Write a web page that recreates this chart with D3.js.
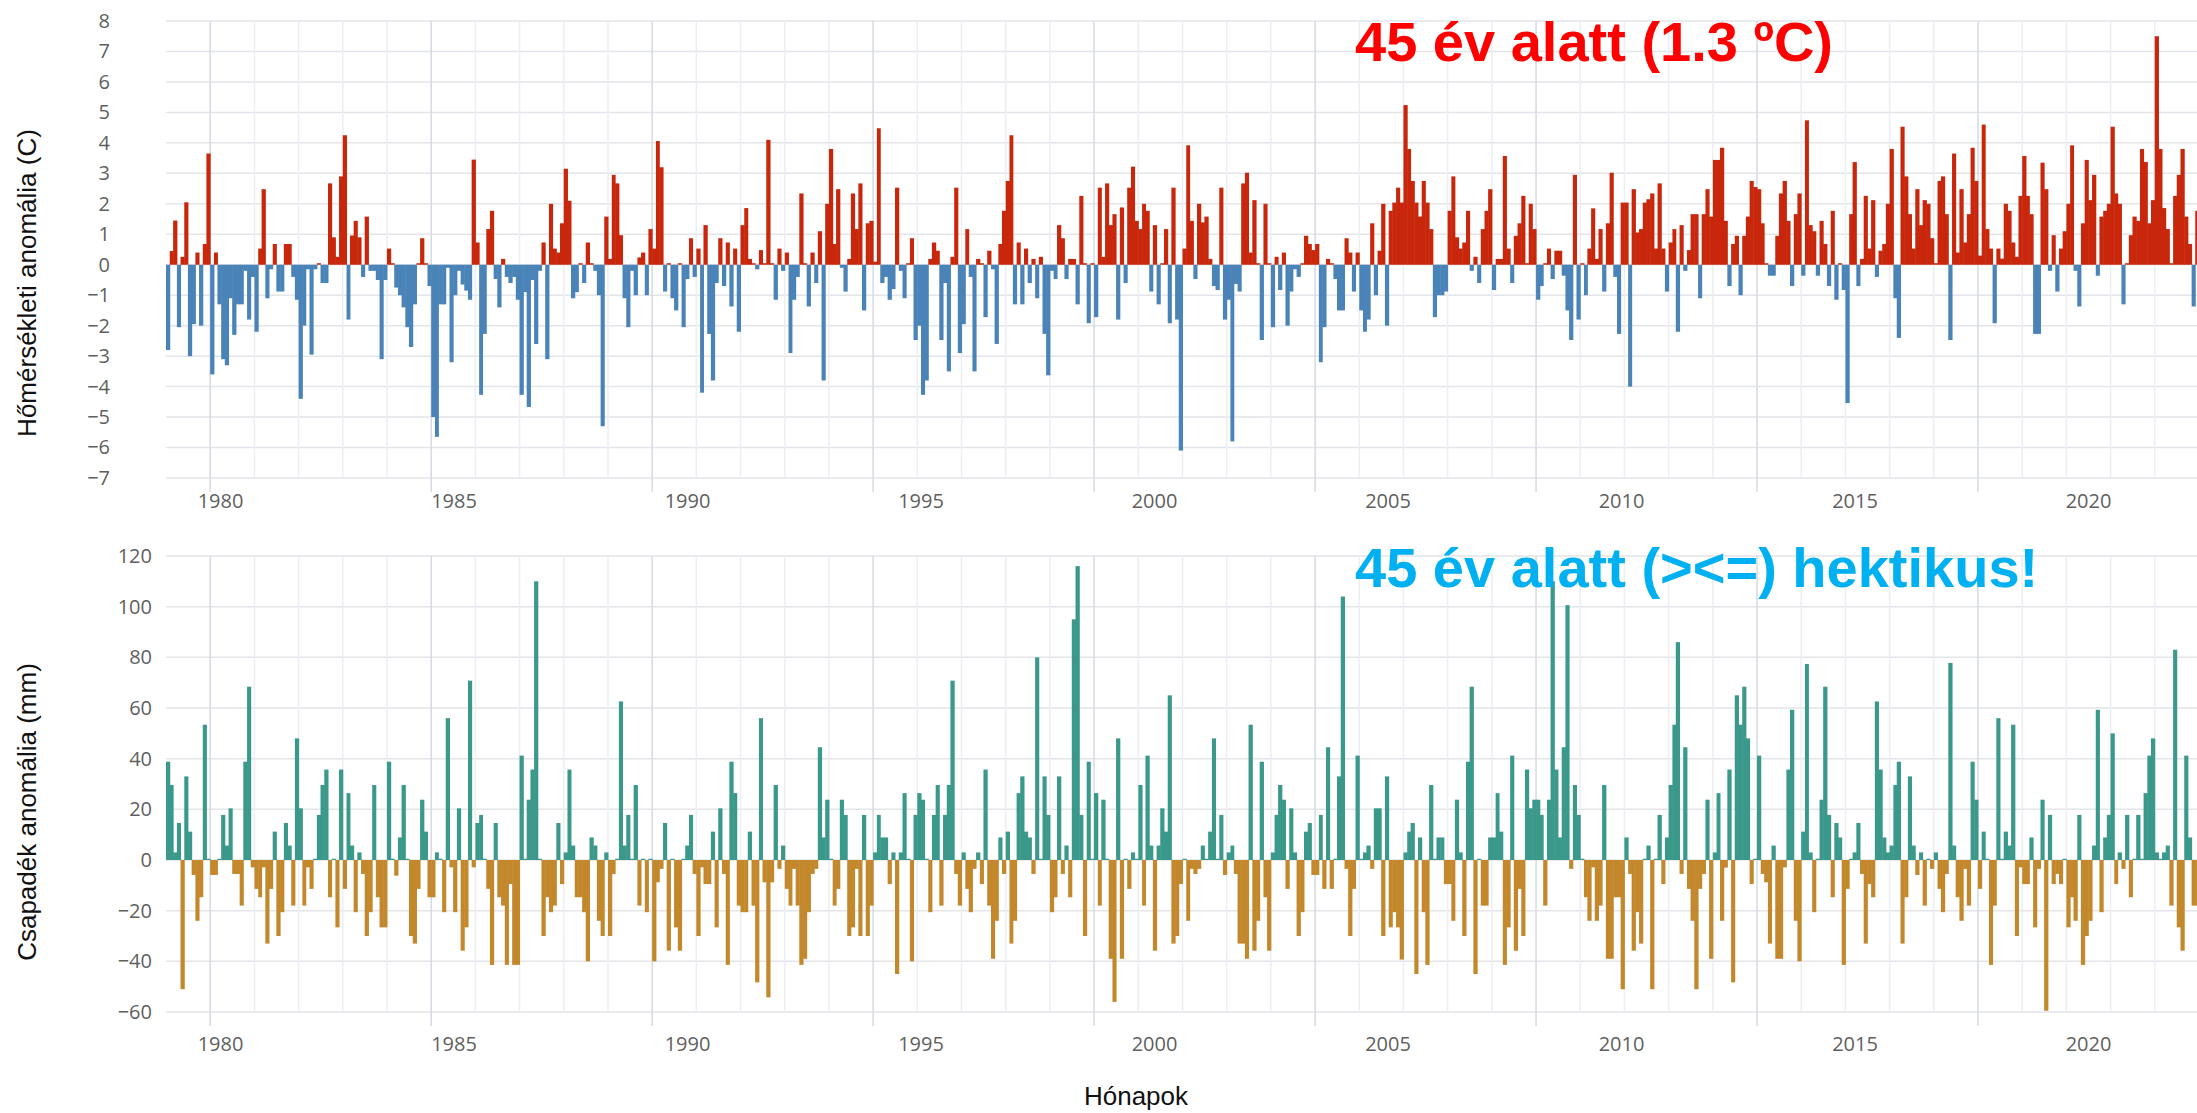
<!DOCTYPE html>
<html>
<head>
<meta charset="utf-8">
<script src="https://cdn.jsdelivr.net/npm/d3@7"></script>
<style>
  html, body { margin: 0; padding: 0; background: #fff; overflow: hidden; }
  svg { display: block; }
</style>
</head>
<body>
<svg id="chart" width="2197" height="1113"></svg>
<script>
const startYear = 1979;
const endYear = 2025;
const labelYears = [1980, 1985, 1990, 1995, 2000, 2005, 2010, 2015, 2020];
const tempTicks = [-7, -6, -5, -4, -3, -2, -1, 0, 1, 2, 3, 4, 5, 6, 7, 8];
const precipTicks = [-60, -40, -20, 0, 20, 40, 60, 80, 100, 120];

// monthly temperature anomaly (C), Jan 1979 .. Dec 2024, one row per year
const tempAnomaly = [
  -2.8, 0.45, 1.45, -2.05, 0.26, 2.05, -3.0, -1.95, 0.4, -2.0, 0.68, 3.65,
  -3.6, 0.4, -1.3, -3.1, -3.3, -1.1, -2.3, -1.3, -1.3, -0.2, -1.8, -0.4,
  -2.2, 0.53, 2.48, -1.1, -0.15, 0.68, -0.88, -0.88, 0.68, 0.68, -0.4, -1.15,
  -4.4, -2.0, -0.15, -2.95, -0.15, 0.05, -0.6, -0.6, 2.67, 0.9, 0.26, 2.9,
  4.25, -1.8, 0.96, 1.44, 0.9, -0.4, 1.58, -0.2, -0.2, -0.5, -3.1, -0.5,
  0.53, 0.05, -0.75, -1.0, -1.4, -2.05, -2.7, -1.3, 0.05, 0.87, 0.05, -0.7,
  -5.0, -5.65, -1.3, -1.3, -0.1, -3.2, -1.0, -0.2, -0.65, -0.85, -1.15, 3.45,
  0.73, -4.27, -2.27, 1.17, 1.77, -0.47, -1.4, 0.19, -0.4, -0.6, -0.4, -1.15,
  -4.27, -0.9, -4.67, -0.5, -2.6, -0.2, 0.73, -3.1, 2.0, 0.53, 0.4, 1.36,
  3.15, 2.1, -1.1, -0.9, 0.05, -0.6, 0.73, 0.05, -0.2, -1.0, -5.3, 1.58,
  0.19, 2.95, 2.67, 0.97, -1.1, -2.05, -0.2, -1.0, 0.24, 0.4, -1.0, 1.17,
  0.53, 4.06, 3.2, -0.88, 0.05, -1.1, -1.5, 0.05, -2.05, -0.47, 0.87, -0.4,
  0.53, -4.2, 1.3, -2.27, -3.8, -0.6, 0.87, -0.7, 0.73, -1.37, 0.53, -2.2,
  1.3, 1.86, 0.19, 0.05, -0.15, 0.48, 0.05, 4.1, 0.05, -1.15, 0.53, -0.2,
  0.4, -2.9, -1.15, -0.4, 2.34, 0.05, -1.37, 0.4, -0.6, 1.1, -3.8, 2.0,
  3.8, 0.68, 2.48, -0.1, -0.88, 0.19, 2.34, 1.17, 2.67, -1.5, 1.36, 1.44,
  0.1, 4.48, -0.6, -0.4, -1.15, -0.8, 2.53, -0.2, -1.1, 0.05, 0.87, -2.47,
  -2.0, -4.27, -3.8, 0.19, 0.73, 0.46, -2.47, -0.6, -3.5, 0.26, 2.53, -2.9,
  -1.95, 1.17, -0.4, -3.5, 0.19, 0.05, -1.72, 0.46, -0.15, -2.6, 0.68, 1.77,
  2.75, 4.25, -1.3, 0.73, -1.3, 0.53, -0.6, 0.19, -1.1, 0.26, -2.27, -3.63,
  -0.2, -0.47, 1.3, 0.87, -0.47, 0.19, 0.19, -1.3, 2.26, 0.05, -1.92, 0.05,
  -1.72, 2.53, 0.26, 2.67, 1.3, 1.66, -1.8, 1.88, -0.6, 2.53, 3.22, 1.44,
  1.17, 2.0, 1.77, -0.88, 1.3, -1.3, 0.05, 1.17, -1.92, 2.53, -1.8, -6.1,
  0.53, 3.92, 1.44, -0.47, 2.0, 1.39, 1.58, 0.19, -0.7, -0.83, 2.53, -1.8,
  -1.15, -5.8, -0.63, -0.88, 2.67, 3.02, 0.4, 2.12, 0.05, -2.47, 2.0, 0.05,
  -2.05, 0.26, -0.83, 0.4, -2.0, -0.88, -0.15, -0.4, 0.05, 0.95, 0.68, 0.48,
  0.68, -3.2, -2.05, 0.19, 0.05, -0.47, -1.5, -1.5, 0.87, 0.4, -0.88, 0.4,
  -1.5, -2.2, -1.8, 1.36, -1.0, 0.46, 2.0, -2.0, 1.77, 2.04, 2.53, 2.04,
  5.24, 3.8, 2.75, 2.04, 1.58, 2.75, 2.04, 1.17, -1.72, -1.0, -1.0, -0.88,
  1.77, 2.9, 0.9, 0.53, 0.73, 1.77, -0.2, 0.26, -0.6, 1.17, 1.77, 2.48,
  -0.83, 0.19, 0.19, 3.57, 0.53, -0.6, 0.95, 1.36, 2.26, 0.05, 2.0, 1.17,
  -1.15, -0.7, 0.05, 0.53, -0.47, 0.46, 0.46, -0.36, -1.5, -2.47, 2.95, -1.8,
  0.05, -1.0, 0.53, 1.85, 0.19, 1.17, -0.88, 1.36, 3.02, -0.4, -2.27, 2.04,
  2.04, -4.0, 2.48, 1.06, 1.17, 2.04, 2.15, 2.34, 0.53, 2.67, 0.53, -0.88,
  0.73, 1.17, -2.2, 1.3, -0.2, 0.48, 1.66, 1.66, -1.1, 1.66, 2.48, 1.58,
  3.44, 3.44, 3.84, 1.44, -0.7, 0.68, 0.95, -1.0, 0.95, 1.58, 2.75, 2.55,
  2.48, 1.36, 0.05, -0.36, -0.36, 0.95, 2.34, 2.75, 1.44, -0.7, 1.66, 2.34,
  -0.36, 4.74, 1.3, 1.1, -0.36, 1.44, 0.68, -0.7, 1.77, -1.15, 0.05, -0.83,
  -4.54, 1.66, 3.37, -0.7, 0.19, 2.26, 0.53, 2.12, -0.4, 0.46, 0.68, 2.0,
  3.8, -1.1, -2.4, 4.53, 2.9, 1.66, 0.53, 2.48, 1.3, 2.12, 2.0, 0.87,
  0.05, 2.75, 2.9, 1.66, -2.47, 3.65, 0.4, 2.48, 0.73, 1.66, 3.84, 2.75,
  0.3, 4.6, 1.17, 0.53, -1.92, 0.53, 0.2, 2.0, 1.77, 0.73, 0.26, 2.26,
  3.57, 2.26, 1.66, -2.27, -2.27, 3.35, 2.48, -0.2, 0.97, -0.88, 0.53, 1.1,
  2.0, 3.92, -0.2, -1.37, 1.36, 3.44, 2.12, 2.95, -0.36, 1.58, 1.77, 2.0,
  4.53, 2.34, 2.0, -1.3, 0.05, 0.97, 1.58, 1.44, 3.8, 3.37, 1.36, 2.12,
  7.5, 3.8, 1.86, 1.17, 0.05, 2.26, 2.95, 3.8, 1.58, 0.68, -1.37, 1.77
];

// monthly precipitation anomaly (mm), Jan 1979 .. Dec 2024
const precipAnomaly = [
  38.8, 29.6, 3, 14.6, -51, 33, 11.2, -5.9, -24, -14.7, 53.4, 0.5,
  -5.9, -5.9, 0.5, 17.8, 5.7, 20.4, -5.5, -5.5, -18, 38.8, 68.4, -2.9,
  -11.4, -14.7, -2.9, -33, -11.4, 11.2, -30, -20.6, 14.6, 5.7, -18, 48,
  20.4, -18, -2.9, -11.4, 0.5, 17.8, 29.6, 35.7, -14.7, 0.5, -26.6, 35.7,
  -11.4, 26.4, 5.7, -20.6, 3, -5.5, -30, -20.6, 29.6, -14.7, -26.6, -26.6,
  38.8, 0.5, -6.2, 8.9, 29.6, 0.5, -30, -33, -11.4, 23.8, 11.2, -14.7,
  -14.7, 3, 0.5, -20.6, 56, -2.9, -20.6, 20.4, -35.8, -26.6, 70.8, -2.9,
  14.6, 17.8, 0.5, -11.4, -41.4, 14.6, -14.7, -18, -41.4, -9.5, -41.4, -41.4,
  41.2, 0.5, 23.8, 35.7, 110, 0.5, -30, -14.7, -20.6, -18, 14.6, -9.5,
  3, 35.7, 5.7, -14.7, -14.7, -20.6, -40, 8.9, 5.7, -24, -30, 3,
  -30, -5.5, 0.5, 62.6, 5.7, 17.8, 0.5, 29.6, -18, 0.5, -20.6, 0.5,
  -40, -8.8, -3.5, 14.6, -35.8, 0.5, -26.6, -35.8, 0.5, 5.7, 17.8, -5.5,
  -30, -2.9, -9.5, -9.5, 11.2, -26.6, 20.4, -5.5, -41.4, 38.8, 26.4, -18,
  -20.6, -20.6, 11.2, -18, -48.3, 56, -8.8, -54.2, -8.8, 29.6, -3.5, 5.7,
  -11.4, -18, -3.5, -18, -41.4, -39, -20.6, -5.5, -3.5, 44.5, 8.9, 23.8,
  0.5, -18, -11.4, 23.8, 17.8, -30, -26.6, -3.5, -30, 17.8, -30, -18,
  3, 17.8, 8.9, 8.9, -9.5, 3, -45, 3, 26.4, 0.5, -40, 17.8,
  26.4, 23.8, 0.5, -20.6, 17.8, 29.6, -18, 17.8, 29.6, 70.8, -5.5, -18,
  3, -11.4, -20.6, -3.5, 3, -9.5, 35.7, -18, -39, -24, 8.9, -5.5,
  11.2, -33, -24, 26.4, 33, 11.2, 8.9, -5.5, 80, 0.5, 33, 17.8,
  -20.6, -14.7, 33, -5.5, 5.7, -14.7, 95, 116, 17.8, -30, 38.8, 0.5,
  26.4, -18, 23.8, 0.5, -39, -56, 48, -39, 0.5, -11.4, 3, 0.5,
  29.6, -18, 41.2, 5.7, -35.8, 5.7, 20.4, 11.2, 65, -33, -30, -9.5,
  0.5, -24, -3.5, -5.5, -3.5, 5.7, 0.5, 11.2, 48, 0.5, 17.8, -5.9,
  3, 5.7, -5.5, -33, -33, -39, 53.4, -35.8, -24, 38.8, -14.7, -35.8,
  3, 17.8, 29.6, 23.8, -11.4, 20.4, 3, -30, -20.6, 11.2, 14.6, -5.9,
  -5.9, 17.8, -11.4, 44.5, -11.4, 0.5, 33, 104, -3.5, -30, -11.4, 41.2,
  0.5, 3, 5.7, -3.5, 20.4, 20.4, -30, 33, -26.6, -20.6, -26.6, -39.3,
  3, 11.2, 14.6, -45, 8.9, -20.6, -41.4, 29.6, 0.5, 8.9, 8.9, -9.5,
  -9.5, -24, 23.8, 3, -30, 38.8, 68.4, -45, 0.5, -18, -18, 8.9,
  8.9, 26.4, 11.2, -41.4, -26.6, 41.2, -35.8, -11.4, -30, 35.7, 20.4, 23.8,
  23.8, 17.8, -18, 23.8, 110, 35.7, 8.9, 44.5, 100.6, -3.5, 29.6, 17.8,
  0.5, -14.7, -24, -2.9, -24, -18, 29.6, -39, -39, -14.7, -14.7, -51,
  8.9, -5.5, -35.8, -20.6, -33, 0.5, 5.7, -51, 0.5, 17.8, -9.5, 8.9,
  29.6, 53.4, 86, -5.5, 44.5, -11.4, -24, -51, -11.4, -5.5, 23.8, -39,
  3, 26.4, -24, -3, 35.7, -48.3, 65, 53.4, 68.4, 48, -9.5, 0.5,
  41.2, -5.5, -8.8, -33, 5.7, -39, -39, -2.9, 35.7, 59.3, -24, -40,
  11.2, 77.4, 3, -20.6, 0.5, 23.8, 68.4, 17.8, -14.7, 14.6, 8.9, -41.4,
  -11.4, 0.5, 3, 14.6, -5.5, -33, -9.5, -14.7, 62.6, 35.7, 8.9, 3,
  5.7, 29.6, 38.8, -33, -14.7, 33, 5.7, -5.9, 3, -18, 0.5, -3.5,
  3, -11.4, -20.6, -5.5, 77.8, 5.7, -14.7, -24, -3.5, -18, 38.8, 23.8,
  -11.4, 11.2, 0.5, -41.4, -18, 56, 0.5, 11.2, 5.7, 53.4, -30, -2.9,
  -9.5, -9.5, 8.9, -26.6, -3.5, 23.8, -59.5, 17.8, -9.5, -5.5, -9.5, 0.5,
  -26.6, -14.7, -24, 17.8, -41.4, -30, -24, 5.7, 59.3, -20.6, 8.9, 17.8,
  50, -9.5, 3, -3.5, 17.8, -14.7, 0.5, 17.8, 0.5, 26.4, 41.2, 48,
  3, 0.5, 3, 5.7, -18, 83, -26.6, -35.8, 41.2, 8.9, -18, -18
];

const svg = d3.select('#chart');

// time scale for the bars and the grid
const x = d3.scaleTime()
  .domain([new Date(startYear, 0, 1), new Date(endYear, 0, 1)])
  .range([166, 2199]);

// the year labels in the picture sit on their own, wider spacing
const xLabel = d3.scaleLinear().domain([1980, 2020]).range([220, 2088]);

const panels = [
  { values: tempAnomaly, ticks: tempTicks, domain: [-7, 8], top: 21, bottom: 478,
    pos: '#c8270c', neg: '#4a83b7', labelRight: 110, xLabelY: 494,
    title: 'Hőmérsékleti anomália (C)', titleY: 283 },
  { values: precipAnomaly, ticks: precipTicks, domain: [-60, 120], top: 556, bottom: 1012,
    pos: '#3a998a', neg: '#c4882c', labelRight: 152, xLabelY: 1037,
    title: 'Csapadék anomália (mm)', titleY: 812 }
];

function drawPanel(p) {
  const y = d3.scaleLinear().domain(p.domain).range([p.bottom, p.top]);
  const g = svg.append('g');

  // horizontal grid
  g.append('g').selectAll('line').data(p.ticks).join('line')
    .attr('x1', 166).attr('x2', 2197)
    .attr('y1', d => y(d)).attr('y2', d => y(d))
    .attr('stroke', '#e3e5ea').attr('stroke-width', 1.5);

  // yearly vertical grid, every 5th year darker with a tick below
  const years = d3.range(startYear + 1, endYear);
  g.append('g').selectAll('line').data(years).join('line')
    .attr('x1', d => x(new Date(d, 0, 1))).attr('x2', d => x(new Date(d, 0, 1)))
    .attr('y1', p.top)
    .attr('y2', d => d % 5 === 0 ? p.bottom + 14 : p.bottom)
    .attr('stroke', d => d % 5 === 0 ? '#d6dae3' : '#eceef2')
    .attr('stroke-width', 1.5);

  // bars
  const data = p.values.map((v, i) => ({
    date: new Date(startYear, i, 1),
    next: new Date(startYear, i + 1, 1),
    v: v
  }));
  g.append('g').selectAll('rect').data(data).join('rect')
    .attr('x', d => x(d.date))
    .attr('width', d => x(d.next) - x(d.date) + 0.5)
    .attr('y', d => y(Math.max(0, d.v)))
    .attr('height', d => Math.abs(y(d.v) - y(0)))
    .attr('fill', d => d.v >= 0 ? p.pos : p.neg);

  // y tick labels
  const yAxis = d3.axisLeft(y).tickValues(p.ticks).tickSize(0).tickPadding(0);
  g.append('g')
    .attr('transform', `translate(${p.labelRight},0)`)
    .call(yAxis)
    .call(a => a.select('.domain').remove())
    .attr('font-family', '"Open Sans", sans-serif')
    .attr('font-size', 20)
    .selectAll('text').attr('fill', '#5f5f5f');

  // x tick labels
  const xAxis = d3.axisBottom(xLabel).tickValues(labelYears).tickFormat(d3.format('d'))
    .tickSize(0).tickPadding(0);
  g.append('g')
    .attr('transform', `translate(0,${p.xLabelY})`)
    .call(xAxis)
    .call(a => a.select('.domain').remove())
    .attr('font-family', '"Open Sans", sans-serif')
    .attr('font-size', 20)
    .selectAll('text').attr('fill', '#5f5f5f');

  // axis title
  svg.append('text')
    .attr('transform', `translate(27,${p.titleY}) rotate(-90)`)
    .attr('text-anchor', 'middle')
    .attr('dominant-baseline', 'central')
    .attr('font-family', '"Liberation Sans", Arial, sans-serif')
    .attr('font-size', 26)
    .attr('fill', '#111')
    .text(p.title);
}

panels.forEach(drawPanel);

svg.append('text')
  .attr('x', 1136).attr('y', 1096)
  .attr('text-anchor', 'middle')
  .attr('dominant-baseline', 'central')
  .attr('font-family', '"Liberation Sans", Arial, sans-serif')
  .attr('font-size', 26)
  .attr('fill', '#111')
  .text('Hónapok');

// annotations
svg.append('text')
  .attr('x', 1355).attr('y', 61)
  .attr('font-family', '"Liberation Sans", Arial, sans-serif')
  .attr('font-weight', 'bold')
  .attr('font-size', 56)
  .attr('fill', '#ff0000')
  .text('45 év alatt (1.3 ºC)');

svg.append('text')
  .attr('x', 1355).attr('y', 587)
  .attr('font-family', '"Liberation Sans", Arial, sans-serif')
  .attr('font-weight', 'bold')
  .attr('font-size', 56)
  .attr('fill', '#00b0f0')
  .text('45 év alatt (><=) hektikus!');
</script>
</body>
</html>
